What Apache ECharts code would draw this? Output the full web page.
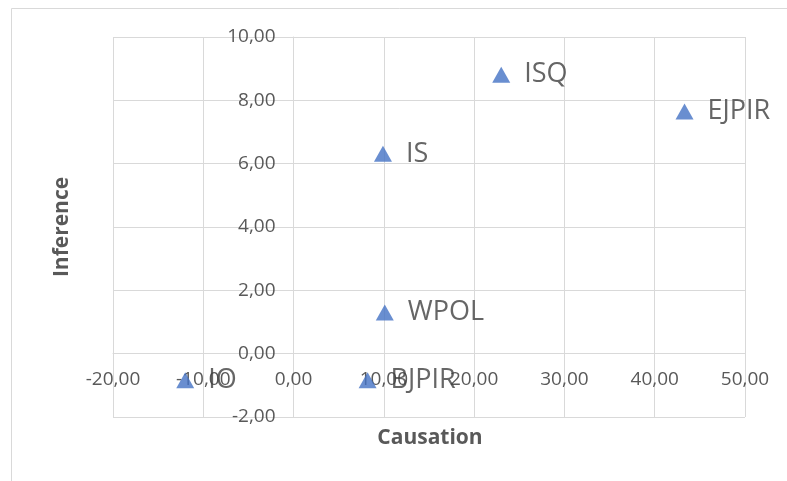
<!DOCTYPE html>
<html>
<head>
<meta charset="utf-8">
<script src="https://cdn.jsdelivr.net/npm/echarts@6/dist/echarts.min.js"></script>
<style>html,body{margin:0;padding:0;background:#fff;}#c{width:787px;height:481px;}</style>
</head>
<body>
<div id="c"></div>
<script>
var names = ['ISQ', 'EJPIR', 'IS', 'WPOL', 'IO', 'BJPIR'];
var causation = [23.0, 43.3, 9.9, 10.1, -12.0, 8.2];
var inference = [8.81, 7.65, 6.31, 1.30, -0.84, -0.84];
var xTicks = {min: -20, max: 50, interval: 10};
var yTicks = {min: -2, max: 10, interval: 2};
var xTitle = 'Causation';
var yTitle = 'Inference';

var FONT = '"Open Sans", sans-serif';
var fmt = function (v) { return v.toFixed(2).replace('.', ','); };
var data = names.map(function (n, i) { return {name: n, value: [causation[i], inference[i]]}; });

var G = {left: 113, right: 42, top: 37, bottom: 64};
var chart = echarts.init(document.getElementById('c'));
var option = {
  animation: false,
  backgroundColor: '#ffffff',
  grid: G,
  xAxis: {
    type: 'value', min: xTicks.min, max: xTicks.max, interval: xTicks.interval,
    position: 'bottom', offset: 0,
    axisLine: {show: true, onZero: false, lineStyle: {color: '#d9d9d9', width: 1}},
    axisTick: {show: false},
    splitLine: {show: true, lineStyle: {color: '#d9d9d9', width: 1}},
    axisLabel: {formatter: fmt, color: '#595959', fontFamily: FONT, fontSize: 19, margin: 16}
  },
  yAxis: {
    type: 'value', min: yTicks.min, max: yTicks.max, interval: yTicks.interval,
    position: 'left', offset: 0,
    axisLine: {show: true, onZero: false, lineStyle: {color: '#d9d9d9', width: 1}},
    axisTick: {show: false},
    splitLine: {show: true, lineStyle: {color: '#d9d9d9', width: 1}},
    axisLabel: {formatter: fmt, color: '#595959', fontFamily: FONT, fontSize: 19, margin: 18}
  },
  series: [{
    type: 'scatter',
    symbol: 'triangle',
    symbolSize: [18, 16],
    itemStyle: {color: '#4472C4'},
    data: data,
    label: {
      show: true, position: 'right', distance: 14,
      formatter: function (p) { return p.name; },
      color: '#404040', fontFamily: FONT, fontSize: 27
    }
  }],
  graphic: [
    {type: 'rect', shape: {x: 11.5, y: 8.5, width: 800, height: 500}, style: {fill: 'none', stroke: '#d9d9d9', lineWidth: 1}, silent: true},
    {type: 'text', x: 430, y: 438, style: {text: xTitle, fill: '#595959', font: 'bold 21px ' + FONT, textAlign: 'center', textVerticalAlign: 'middle'}},
    {type: 'text', x: 62, y: 227, rotation: Math.PI / 2, style: {text: yTitle, fill: '#595959', font: 'bold 21px ' + FONT, textAlign: 'center', textVerticalAlign: 'middle'}}
  ]
};
chart.setOption(option);
// move axes onto the other axis's zero, using the library's own scales
var x0 = chart.convertToPixel({xAxisIndex: 0}, 0);
var y0 = chart.convertToPixel({yAxisIndex: 0}, 0);
var gridBottomY = 481 - G.bottom;
chart.setOption({
  xAxis: {offset: -(gridBottomY - y0)},
  yAxis: {offset: -(x0 - G.left)}
});
</script>
</body>
</html>
